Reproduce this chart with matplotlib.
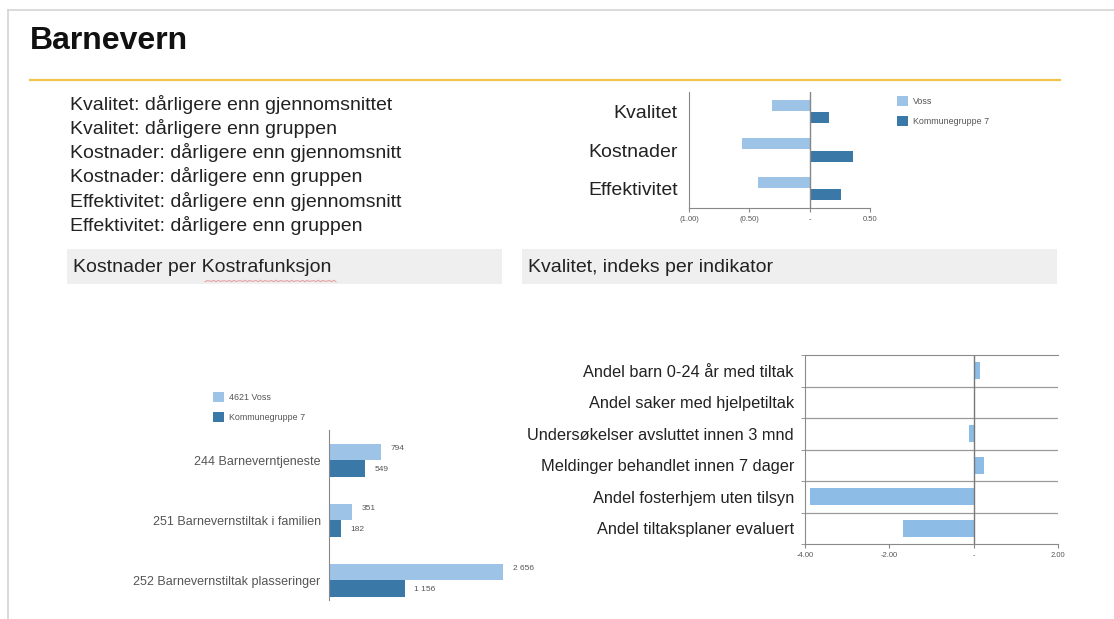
import matplotlib
matplotlib.use("Agg")
import matplotlib.pyplot as plt
from matplotlib.patches import Rectangle
import numpy as np

plt.rcParams["font.family"] = ["Liberation Sans", "DejaVu Sans"]

W, H = 1114, 619

# ---- data ----
title = "Barnevern"
summary_lines = [
    "Kvalitet: dårligere enn gjennomsnittet",
    "Kvalitet: dårligere enn gruppen",
    "Kostnader: dårligere enn gjennomsnitt",
    "Kostnader: dårligere enn gruppen",
    "Effektivitet: dårligere enn gjennomsnitt",
    "Effektivitet: dårligere enn gruppen",
]

index_categories = ["Kvalitet", "Kostnader", "Effektivitet"]
index_voss = [-0.31, -0.56, -0.43]
index_group = [0.16, 0.36, 0.26]
index_ticks = [-1.0, -0.5, 0.0, 0.5]
index_ticklabels = ["(1.00)", "(0.50)", "-", "0.50"]
index_legend = ["Voss", "Kommunegruppe 7"]

cost_categories = ["244 Barneverntjeneste", "251 Barnevernstiltak i familien",
                   "252 Barnevernstiltak plasseringer"]
cost_voss = [794, 351, 2656]
cost_group = [549, 182, 1156]
cost_legend = ["4621 Voss", "Kommunegruppe 7"]

quality_categories = ["Andel barn 0-24 år med tiltak", "Andel saker med hjelpetiltak",
                      "Undersøkelser avsluttet innen 3 mnd", "Meldinger behandlet innen 7 dager",
                      "Andel fosterhjem uten tilsyn", "Andel tiltaksplaner evaluert"]
quality_values = [0.15, 0.0, -0.10, 0.24, -3.87, -1.68]
quality_ticks = [-4.0, -2.0, 0.0, 2.0]
quality_ticklabels = ["-4.00", "-2.00", "-", "2.00"]

section_titles = ["Kostnader per Kostrafunksjon", "Kvalitet, indeks per indikator"]

LIGHT = "#9DC3E6"
DARK = "#3A78A8"
QBLUE = "#8DBDE6"
TXT = "#222222"


def box(x0, y0, x1, y1):
    return [x0 / W, 1 - y1 / H, (x1 - x0) / W, (y1 - y0) / H]


def fmt_thousands(v):
    return f"{v:,}".replace(",", " ")


fig = plt.figure(figsize=(W / 100, H / 100), dpi=100)
fig.patch.set_facecolor("white")

# page canvas in pixel coordinates for the static decoration
bg = fig.add_axes([0, 0, 1, 1])
bg.set_xlim(0, W)
bg.set_ylim(H, 0)
bg.axis("off")

bg.plot([8, W], [9.5, 9.5], color="#D4D4D4", lw=1.2)
bg.plot([8, 8], [9.5, H], color="#D4D4D4", lw=1.2)
bg.text(30, 41, title, fontsize=23, fontweight="bold", color="#111111", va="center", ha="left")
bg.plot([30, 1060], [80, 80], color="#F2C44A", lw=1.6)

for i, line in enumerate(summary_lines):
    bg.text(70, 104 + i * 24.3, line, fontsize=14, color=TXT, va="center", ha="left")

bands = [(67, 502), (522, 1057)]
for (x0, x1), label in zip(bands, section_titles):
    bg.add_patch(Rectangle((x0, 249), x1 - x0, 35, facecolor="#EFEFEF", edgecolor="none"))
    bg.text(x0 + 6, 267, label, fontsize=14, color=TXT, va="center", ha="left")
# spell-check underline under the function name
xs = np.linspace(205, 336, 60)
bg.plot(xs, 281 + 0.8 * np.sin(xs * 1.2), color="#E6A3A3", lw=0.8)

# legends
for (lx, ly), labels, size in [((897, 101), index_legend, 6.4), ((213, 397), cost_legend, 6.4)]:
    for j, (lab, col) in enumerate(zip(labels, [LIGHT, DARK])):
        yy = ly + j * 20
        bg.add_patch(Rectangle((lx, yy - 5), 11, 10, facecolor=col, edgecolor="none"))
        bg.text(lx + 16, yy, lab, fontsize=size, color="#555555", va="center", ha="left")

# ---- index chart (top right) ----
ax1 = fig.add_axes(box(689, 92, 870, 208))
y = np.arange(len(index_categories))
h = 0.29
ax1.barh(y - 0.16, index_voss, height=h, color=LIGHT)
ax1.barh(y + 0.16, index_group, height=h, color=DARK)
ax1.set_xlim(-1.0, 0.5)
ax1.set_ylim(2.5, -0.5)
ax1.axvline(0, color="#888888", lw=1.0)
ax1.set_yticks(y)
ax1.set_yticklabels(index_categories, fontsize=14, color=TXT)
ax1.set_xticks(index_ticks)
ax1.set_xticklabels(index_ticklabels, fontsize=5.5, color="#555555")
ax1.tick_params(axis="y", length=0, pad=8)
ax1.tick_params(axis="x", length=3, color="#888888", pad=3)
for s in ["top", "right"]:
    ax1.spines[s].set_visible(False)
for s in ["left", "bottom"]:
    ax1.spines[s].set_color("#888888")
ax1.patch.set_alpha(0)

# ---- cost chart (bottom left) ----
ax2 = fig.add_axes(box(329, 430, 540, 600))
y2 = np.arange(len(cost_categories))
ax2.barh(y2 - 0.14, cost_voss, height=0.27, color=LIGHT)
ax2.barh(y2 + 0.14, cost_group, height=0.28, color=DARK)
ax2.set_xlim(0, 3220)
ax2.set_ylim(2.33, -0.5)
for yy, v in zip(y2 - 0.14, cost_voss):
    ax2.annotate(fmt_thousands(v), (v, yy), xytext=(7, 2), textcoords="offset points",
                 fontsize=6, color="#555555", va="center", ha="left")
for yy, v in zip(y2 + 0.14, cost_group):
    ax2.annotate(fmt_thousands(v), (v, yy), xytext=(7, -1), textcoords="offset points",
                 fontsize=6, color="#555555", va="center", ha="left")
ax2.set_yticks(y2)
ax2.set_yticklabels(cost_categories, fontsize=9, color="#555555")
ax2.tick_params(axis="y", length=0, pad=6)
ax2.set_xticks([])
for s in ["top", "right", "bottom"]:
    ax2.spines[s].set_visible(False)
ax2.spines["left"].set_color("#888888")
ax2.patch.set_alpha(0)

# ---- quality index chart (bottom right) ----
ax3 = fig.add_axes(box(805, 355, 1058, 544))
y3 = np.arange(len(quality_categories))
ax3.barh(y3, quality_values, height=0.55, color=QBLUE)
ax3.set_xlim(-4.0, 2.0)
ax3.set_ylim(5.5, -0.5)
for b in np.arange(0.5, len(quality_categories) - 1, 1.0):
    ax3.axhline(b, color="#9A9A9A", lw=0.9, zorder=0)
ax3.axvline(0, color="#777777", lw=1.0)
ax3.set_yticks(y3)
ax3.set_yticklabels(quality_categories, fontsize=11.8, color=TXT)
ax3.set_yticks(np.arange(-0.5, len(quality_categories), 1.0), minor=True)
ax3.tick_params(axis="y", which="major", length=0, pad=8)
ax3.tick_params(axis="y", which="minor", length=3, color="#888888")
ax3.set_xticks(quality_ticks)
ax3.set_xticklabels(quality_ticklabels, fontsize=5.5, color="#555555")
ax3.tick_params(axis="x", length=3, color="#888888", pad=3)
ax3.spines["right"].set_visible(False)
for s in ["left", "bottom", "top"]:
    ax3.spines[s].set_color("#8A8A8A")
ax3.patch.set_alpha(0)

fig.savefig("out.png", dpi=100, facecolor="white")
